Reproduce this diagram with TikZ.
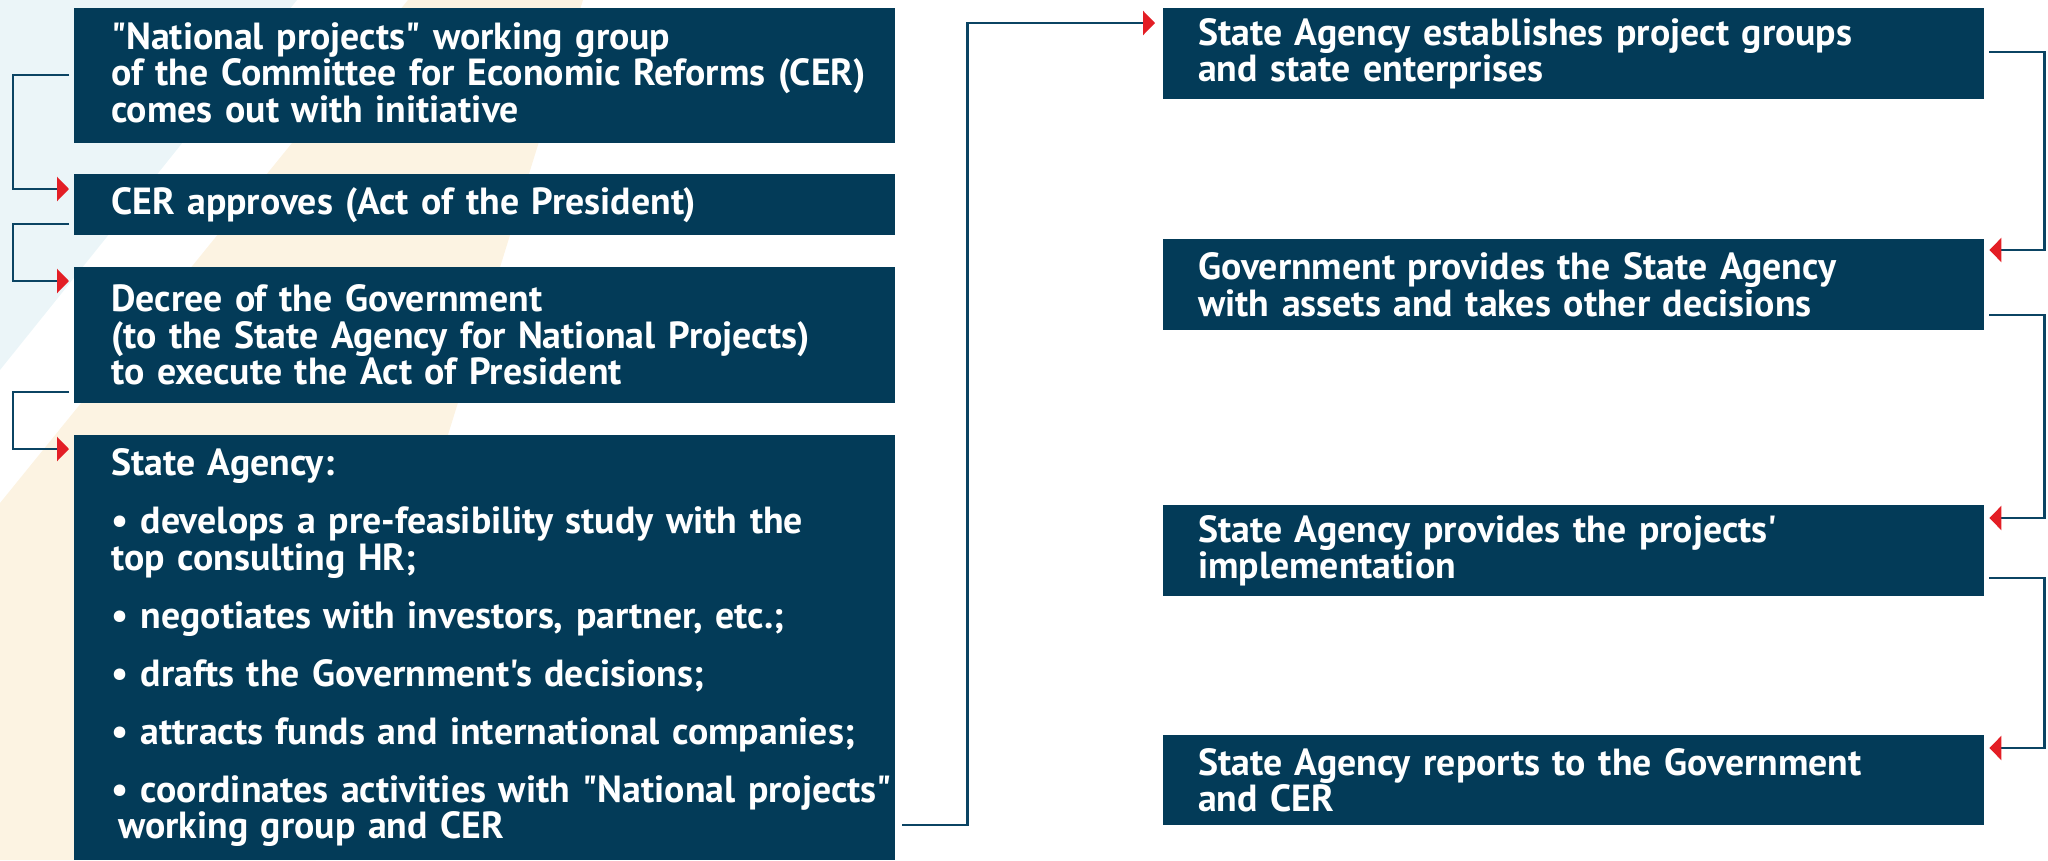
\documentclass[tikz,border=0pt]{standalone}
\usepackage{fontspec}
\setmainfont{PT Sans}[Ligatures=TeXOff]
\usetikzlibrary{arrows.meta,calc}
\definecolor{boxblue}{HTML}{033B58}
\definecolor{linblue}{HTML}{0B4463}
\definecolor{arrowred}{HTML}{E31E25}
\definecolor{lightbg}{HTML}{EBF5F8}
\definecolor{creambg}{HTML}{FCF3E2}
\newcommand\myboxfont{\fontsize{37.8}{36.5}\selectfont\bfseries}
\begin{document}
\begin{tikzpicture}[x=1pt,y=-1pt,
  box/.style={fill=boxblue, text=white, anchor=north west, inner ysep=0pt, align=left, font=\myboxfont},
  lbox/.style={box, inner xsep=37pt, text width=747pt},
  rbox/.style={box, inner xsep=35pt, text width=751pt},
  conn/.style={draw=linblue, line width=2.4pt, line cap=butt, line join=miter,
    -{Triangle[length=12pt,width=24pt,color=arrowred,fill=arrowred]}}
]
\useasboundingbox (0,0) rectangle (2048,860);
% background stripes
\fill[lightbg] (0,0) -- (297,0) -- (0,370) -- cycle;
\fill[creambg] (408,0) -- (583,0) -- (316,860) -- (0,860) -- (0,503) -- cycle;

% left column
\node[lbox, minimum height=135pt] (b1) at (74,8)
  {\mbox{"National projects" working group}\\
   \mbox{of the Committee for Economic Reforms (CER)}\\
   \mbox{comes out with initiative\rule[-7pt]{0pt}{7pt}}};
\node[lbox, minimum height=61pt] (b2) at (74,174)
  {\mbox{CER approves (Act of the President)}};
\node[lbox, minimum height=136pt] (b3) at (74,267)
  {\mbox{Decree of the Government}\\
   \mbox{(to the State Agency for National Projects)}\\
   \mbox{to execute the Act of President}};
\node[lbox, minimum height=425pt] (b4) at (74,435)
  {\mbox{State Agency:}\\[21.5pt]
   \mbox{• develops a pre-feasibility study with the}\\
   \mbox{top consulting HR;}\\[21.5pt]
   \mbox{• negotiates with investors, partner, etc.;}\\[21.5pt]
   \mbox{• drafts the Government's decisions;}\\[21.5pt]
   \mbox{• attracts funds and international companies;}\\[21.5pt]
   \mbox{• coordinates activities with "National projects"}\\
   \mbox{\hspace*{7pt}working group and CER}};

% right column
\node[rbox, minimum height=91pt] (r1) at (1163,8)
  {\mbox{State Agency establishes project groups}\\
   \mbox{and state enterprises}};
\node[rbox, minimum height=91pt] (r2) at (1163,239)
  {\mbox{Government provides the State Agency}\\
   \mbox{with assets and takes other decisions}};
\node[rbox, minimum height=91pt] (r3) at (1163,505)
  {\mbox{State Agency provides the projects'}\\
   \mbox{implementation}};
\node[rbox, minimum height=90pt] (r4) at (1163,735)
  {\mbox{State Agency reports to the Government}\\
   \mbox{and CER}};

% connectors, left column
\draw[conn] ($(b1.north west)+(-5,67)$) -- ++(-56,0) |- ($(b2.north west)+(-5,15)$);
\draw[conn] ($(b2.north west)+(-5,50)$) -- ++(-56,0) |- ($(b3.north west)+(-5,14)$);
\draw[conn] ($(b3.north west)+(-5,125)$) -- ++(-56,0) |- ($(b4.north west)+(-5,14)$);
% from left column to right column
\draw[conn] ($(b4.north east)+(7,390)$) -- ++(65,0) |- ($(r1.north west)+(-8,15)$);
% connectors, right column
\draw[conn] ($(r1.north east)+(5,44)$) -- ++(55,0) |- ($(r2.north east)+(5,11)$);
\draw[conn] ($(r2.north east)+(5,76)$) -- ++(55,0) |- ($(r3.north east)+(5,13)$);
\draw[conn] ($(r3.north east)+(5,73)$) -- ++(55,0) |- ($(r4.north east)+(5,13)$);
\end{tikzpicture}
\end{document}
